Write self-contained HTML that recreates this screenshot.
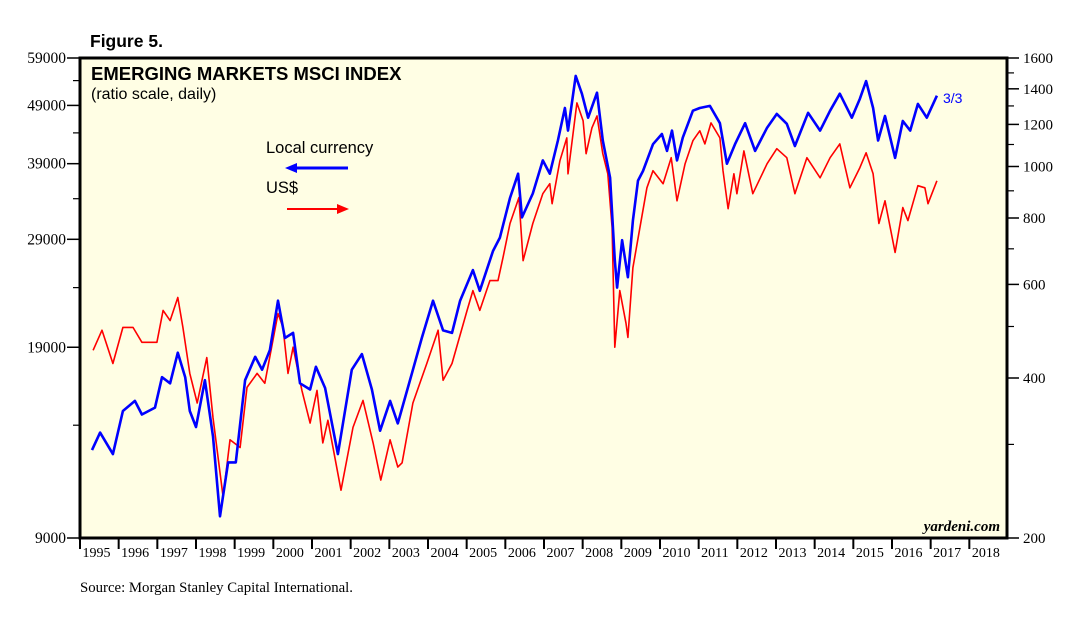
<!DOCTYPE html>
<html><head><meta charset="utf-8">
<style>
body{margin:0;background:#fff;}
svg{display:block;}
</style></head>
<body>
<svg id="chart" width="1090" height="628" viewBox="0 0 1090 628" xmlns="http://www.w3.org/2000/svg">
<text x="90" y="47" font-family="Liberation Sans, sans-serif" font-weight="bold" font-size="17.5">Figure 5.</text>
<rect x="80" y="58" width="927" height="480" fill="#fffee4"/>
<g id="ticks"></g>
<g id="series"></g>
<rect x="80" y="58" width="927" height="480" fill="none" stroke="#000" stroke-width="3"/>
<text x="91" y="80" font-family="Liberation Sans, sans-serif" font-weight="bold" font-size="18.5">EMERGING MARKETS MSCI INDEX</text>
<text x="91" y="99" font-family="Liberation Sans, sans-serif" font-size="16">(ratio scale, daily)</text>
<text x="266" y="153" font-family="Liberation Sans, sans-serif" font-size="16.5">Local currency</text>
<g><line x1="295" y1="168" x2="348" y2="168" stroke="#0000ff" stroke-width="3"/><polygon points="285,168 297,163 297,173" fill="#0000ff"/></g>
<text x="266" y="193" font-family="Liberation Sans, sans-serif" font-size="16.5">US$</text>
<g><line x1="287" y1="209" x2="338" y2="209" stroke="#ff0000" stroke-width="2"/><polygon points="349,209 337,204 337,214" fill="#ff0000"/></g>
<text x="943" y="103" font-family="Liberation Sans, sans-serif" font-size="14" fill="#0000ff">3/3</text>
<text x="1000" y="531" text-anchor="end" font-family="Liberation Serif, serif" font-style="italic" font-weight="bold" font-size="15">yardeni.com</text>
<text x="80" y="592" font-family="Liberation Serif, serif" font-size="14.8">Source: Morgan Stanley Capital International.</text>
</svg>
<script>
const leftTicks=[59000,49000,39000,29000,19000,9000];
const leftMinor=[54000,44000,34000,24000,14000];
const rightTicks=[1600,1400,1200,1000,800,600,400,200];
const rightMinor=[1500,1300,1100,900,700,500,300];
const yearLabels=[1995,1996,1997,1998,1999,2000,2001,2002,2003,2004,2005,2006,2007,2008,2009,2010,2011,2012,2013,2014,2015,2016,2017,2018];
const localDates=[1995.31,1995.52,1995.85,1996.11,1996.42,1996.60,1996.94,1997.12,1997.33,1997.53,1997.72,1997.84,1998.00,1998.23,1998.44,1998.62,1998.83,1999.03,1999.27,1999.53,1999.71,1999.91,2000.12,2000.30,2000.51,2000.69,2000.95,2001.10,2001.34,2001.67,2002.03,2002.29,2002.55,2002.76,2003.02,2003.22,2003.59,2003.84,2004.13,2004.39,2004.62,2004.83,2005.16,2005.34,2005.68,2005.86,2006.12,2006.33,2006.43,2006.71,2006.97,2007.15,2007.36,2007.54,2007.62,2007.82,2007.98,2008.14,2008.37,2008.52,2008.71,2008.83,2008.89,2009.02,2009.17,2009.30,2009.43,2009.56,2009.82,2010.05,2010.18,2010.31,2010.44,2010.59,2010.85,2011.03,2011.29,2011.55,2011.73,2011.94,2012.20,2012.46,2012.77,2013.02,2013.28,2013.49,2013.83,2014.14,2014.40,2014.65,2014.96,2015.17,2015.33,2015.51,2015.64,2015.82,2016.08,2016.28,2016.47,2016.67,2016.90,2017.16];
const localValues=[12700,13600,12500,14800,15400,14600,15000,16900,16500,18600,16900,14800,13900,16700,13400,9800,12100,12100,16700,18300,17400,18800,22800,19700,20100,16500,16100,17600,16200,12500,17400,18500,16100,13700,15400,14100,17200,19700,22800,20300,20100,22800,25700,23700,27700,29200,34100,37500,31600,34700,39500,37500,42700,48500,44400,55000,51300,46700,51500,42700,36900,26700,24000,28900,25000,31200,36500,37900,42100,43800,41000,44400,39500,43200,48000,48500,48900,45700,39000,42100,45700,41000,44900,47400,45600,41800,47600,44400,48000,51300,46700,50300,53900,48500,42700,47000,39900,46100,44400,49300,46700,50900];
const usdDates=[1995.34,1995.57,1995.85,1996.11,1996.37,1996.60,1996.99,1997.15,1997.33,1997.53,1997.66,1997.84,1998.03,1998.28,1998.44,1998.70,1998.88,1999.14,1999.32,1999.58,1999.78,2000.12,2000.25,2000.38,2000.51,2000.74,2000.95,2001.13,2001.28,2001.41,2001.75,2002.06,2002.32,2002.58,2002.78,2003.02,2003.22,2003.33,2003.61,2003.97,2004.26,2004.39,2004.62,2005.01,2005.16,2005.34,2005.60,2005.81,2005.94,2006.12,2006.35,2006.46,2006.71,2006.97,2007.15,2007.21,2007.41,2007.59,2007.62,2007.85,2008.01,2008.09,2008.24,2008.37,2008.52,2008.65,2008.76,2008.83,2008.96,2009.12,2009.17,2009.30,2009.48,2009.66,2009.82,2010.08,2010.29,2010.44,2010.65,2010.85,2011.03,2011.16,2011.32,2011.55,2011.63,2011.76,2011.91,2011.99,2012.17,2012.40,2012.77,2013.02,2013.28,2013.49,2013.80,2014.14,2014.40,2014.65,2014.91,2015.17,2015.33,2015.51,2015.66,2015.82,2016.08,2016.28,2016.41,2016.67,2016.85,2016.93,2017.16];
const usdValues=[451,492,426,498,498,467,467,536,513,567,498,408,359,437,337,239,306,296,384,408,391,529,498,408,457,379,329,379,302,333,246,323,363,302,257,306,272,277,359,426,492,396,426,536,584,536,610,610,674,781,874,665,781,889,928,851,1025,1132,969,1317,1219,1057,1182,1245,1057,969,767,457,584,507,477,645,767,912,982,928,1039,862,1012,1118,1167,1103,1208,1132,982,833,969,889,1070,889,1012,1080,1039,889,1039,952,1039,1103,912,995,1061,969,781,862,689,837,791,920,912,851,940];

const NS='http://www.w3.org/2000/svg';
const X0=80,X1=1008,Y0=58,Y1=538;
function xScale(yr){return X0+(yr-1995)/24*(X1-X0);}
function yLeft(v){return Y1-(Math.log(v/9000)/Math.log(59000/9000))*(Y1-Y0);}
function yRight(v){return Y1-(Math.log(v/200)/Math.log(1600/200))*(Y1-Y0);}
const ticks=document.getElementById('ticks');
const series=document.getElementById('series');
function mk(tag,attrs,parent){const e=document.createElementNS(NS,tag);for(const k in attrs)e.setAttribute(k,attrs[k]);parent.appendChild(e);return e;}

leftTicks.forEach(v=>{
  const y=yLeft(v);
  const t=mk('line',{x1:67,y1:y,x2:80,y2:y,stroke:'#000','stroke-width':1.5},ticks);
  
  
  const l=mk('text',{x:66,y:y+5,'text-anchor':'end','font-family':'Liberation Serif, serif','font-size':15.5},ticks);
  l.textContent=v;
  
  
});
leftMinor.forEach(v=>{
  const y=yLeft(v);
  const t=mk('line',{x1:73,y1:y,x2:80,y2:y,stroke:'#000','stroke-width':1.2},ticks);
  
  
});
rightTicks.forEach(v=>{
  const y=yRight(v);
  const t=mk('line',{x1:1007,y1:y,x2:1019,y2:y,stroke:'#000','stroke-width':1.5},ticks);
  
  
  const l=mk('text',{x:1023,y:y+5,'font-family':'Liberation Serif, serif','font-size':15},ticks);
  l.textContent=v;
  
  
});
rightMinor.forEach(v=>{
  const y=yRight(v);
  const t=mk('line',{x1:1007,y1:y,x2:1014,y2:y,stroke:'#000','stroke-width':1.2},ticks);
  
  
});
yearLabels.forEach(yr=>{
  const x=xScale(yr);
  const t=mk('line',{x1:x,y1:538,x2:x,y2:549,stroke:'#000','stroke-width':2},ticks);
  
  
  const l=mk('text',{x:x+2.5,y:557,'font-family':'Liberation Serif, serif','font-size':14},ticks);
  l.textContent=yr;
  
  
});
function pts(d,v,f){return d.map((t,i)=>xScale(t).toFixed(1)+','+f(v[i]).toFixed(1)).join(' ');}
const usd=mk('polyline',{points:pts(usdDates,usdValues,yRight),fill:'none',stroke:'#ff0000','stroke-width':1.6,'stroke-linejoin':'round'},series);


const loc=mk('polyline',{points:pts(localDates,localValues,yLeft),fill:'none',stroke:'#0000ff','stroke-width':2.6,'stroke-linejoin':'round'},series);


</script>
</body></html>
